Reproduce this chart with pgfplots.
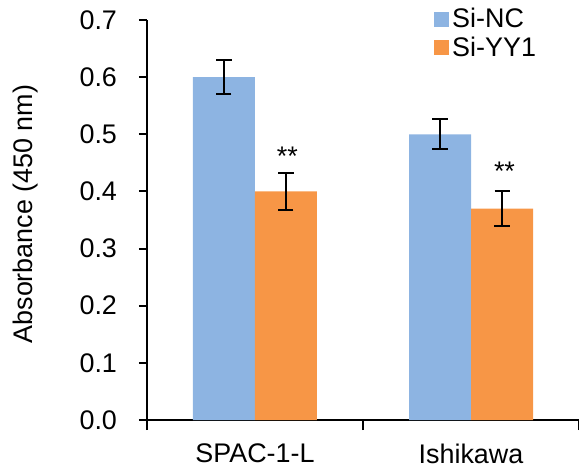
\documentclass[border=0pt]{standalone}
\usepackage{pgfplots}
\pgfplotsset{compat=1.18}
\usepackage{fontspec}
\setmainfont{Liberation Sans}
\definecolor{cblue}{RGB}{141,180,226}
\definecolor{corange}{RGB}{247,150,70}
\begin{document}
\begin{tikzpicture}
\begin{axis}[
  scale only axis,
  width=216bp, height=200bp,
  at={(0,0)}, anchor=south west,
  xmin=-0.5, xmax=1.5,
  ymin=0, ymax=0.7,
  axis x line*=bottom, axis y line*=left,
  axis line style={line width=1bp, -},
  ytick={0,0.1,...,0.7},
  yticklabel style={/pgf/number format/fixed, /pgf/number format/fixed zerofill, /pgf/number format/precision=1},
  /pgf/number format/assume math mode=true,
  xtick={0,1}, xticklabels={SPAC-1-L,Ishikawa},
  minor xtick={-0.5,0.5,1.5},
  tick align=outside,
  major tick length=4bp, minor tick length=5bp,
  every tick/.style={line width=1bp, black},
  major x tick style={draw=none},
  tick label style={font=\fontsize{13.5}{15}\selectfont},
  yticklabel style={xshift=-7.5bp},
  xticklabel style={yshift=-4.5bp},
  ylabel={Absorbance (450 nm)},
  ylabel style={font=\fontsize{13.5}{15}\selectfont, at={(axis description cs:-0.282,0.515)}, anchor=center},
  ybar=0pt, bar width=31bp,
  legend style={draw=none, fill=none, at={(rel axis cs:0.664,1.038)}, anchor=north west,
    font=\fontsize{13.5}{15}\selectfont, row sep=0bp, inner sep=0pt,
    nodes={inner sep=1.5bp}},
  legend cell align=left,
  legend image code/.code={\fill[#1] (0bp,-3.75bp) rectangle (7.5bp,3.75bp);},
  error bars/y dir=both, error bars/y explicit,
  error bars/error bar style={line width=1bp, black},
  error bars/error mark options={rotate=90, mark size=3.75bp, line width=1bp, black},
]
\addplot[draw=none, fill=cblue] table[x=x, y=y, y error=e] {
x y e
0 0.60 0.030
1 0.50 0.026
};
\addlegendentry{Si-NC}
\addplot[draw=none, fill=corange] table[x=x, y=y, y error=e] {
x y e
0 0.40 0.032
1 0.37 0.030
};
\addlegendentry{Si-YY1}
\node[font=\fontsize{13.5}{15}\selectfont, anchor=base] at (axis cs:0.15,0.445) {**};
\node[font=\fontsize{13.5}{15}\selectfont, anchor=base] at (axis cs:1.155,0.419) {**};
\end{axis}
\pgfresetboundingbox
\path (-73.5bp,-23.5bp) rectangle (216bp,210bp);
\end{tikzpicture}
\end{document}
